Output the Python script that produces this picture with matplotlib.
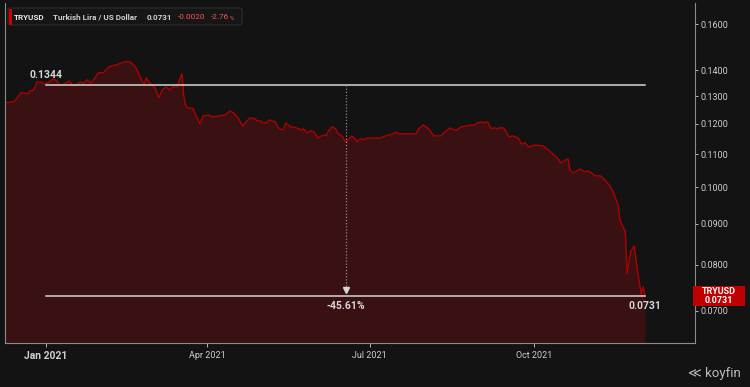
import matplotlib.pyplot as plt
import matplotlib.dates as mdates
from matplotlib.patches import FancyBboxPatch, Rectangle
import pandas as pd

plt.rcParams['font.family'] = ['Roboto', 'DejaVu Sans']

# TRYUSD (Dec 2020 - Dec 2021)
dates = [
    '2020-12-09', '2020-12-14', '2020-12-18', '2020-12-22', '2020-12-23', '2020-12-25',
    '2020-12-27', '2020-12-29', '2020-12-31', '2021-01-02', '2021-01-05', '2021-01-07',
    '2021-01-09', '2021-01-12', '2021-01-14', '2021-01-16', '2021-01-18', '2021-01-20',
    '2021-01-22', '2021-01-24', '2021-01-26', '2021-01-28', '2021-01-30', '2021-02-02',
    '2021-02-05', '2021-02-07', '2021-02-09', '2021-02-12', '2021-02-14', '2021-02-17',
    '2021-02-20', '2021-02-21', '2021-02-24', '2021-02-25', '2021-02-26', '2021-02-28',
    '2021-03-03', '2021-03-05', '2021-03-07', '2021-03-09', '2021-03-11', '2021-03-13',
    '2021-03-15', '2021-03-18', '2021-03-19', '2021-03-20', '2021-03-21', '2021-03-24',
    '2021-03-28', '2021-03-30', '2021-04-02', '2021-04-04', '2021-04-08', '2021-04-11',
    '2021-04-14', '2021-04-16', '2021-04-18', '2021-04-21', '2021-04-23', '2021-04-25',
    '2021-04-28', '2021-04-29', '2021-05-01', '2021-05-02', '2021-05-04', '2021-05-06',
    '2021-05-09', '2021-05-11', '2021-05-13', '2021-05-14', '2021-05-15', '2021-05-18',
    '2021-05-19', '2021-05-21', '2021-05-24', '2021-05-25', '2021-05-27', '2021-05-29',
    '2021-05-31', '2021-06-02', '2021-06-04', '2021-06-07', '2021-06-08', '2021-06-10',
    '2021-06-12', '2021-06-13', '2021-06-16', '2021-06-17', '2021-06-18', '2021-06-20',
    '2021-06-21', '2021-06-23', '2021-06-24', '2021-06-26', '2021-06-27', '2021-06-30',
    '2021-07-02', '2021-07-07', '2021-07-10', '2021-07-14', '2021-07-16', '2021-07-17',
    '2021-07-19', '2021-07-27', '2021-07-28', '2021-07-29', '2021-07-31', '2021-08-03',
    '2021-08-06', '2021-08-08', '2021-08-10', '2021-08-12', '2021-08-15', '2021-08-17',
    '2021-08-19', '2021-08-21', '2021-08-24', '2021-08-25', '2021-08-27', '2021-08-29',
    '2021-08-30', '2021-09-02', '2021-09-03', '2021-09-05', '2021-09-07', '2021-09-09',
    '2021-09-10', '2021-09-12', '2021-09-14', '2021-09-17', '2021-09-19', '2021-09-22',
    '2021-09-24', '2021-09-26', '2021-09-28', '2021-10-01', '2021-10-06', '2021-10-09',
    '2021-10-11', '2021-10-14', '2021-10-16', '2021-10-19', '2021-10-20', '2021-10-21',
    '2021-10-23', '2021-10-24', '2021-10-27', '2021-10-29', '2021-10-31', '2021-11-02',
    '2021-11-04', '2021-11-07', '2021-11-09', '2021-11-12', '2021-11-14', '2021-11-17',
    '2021-11-18', '2021-11-21', '2021-11-22', '2021-11-24', '2021-11-26', '2021-11-28',
    '2021-11-30', '2021-12-01', '2021-12-02',
]
prices = [
    0.1275, 0.1279, 0.1312, 0.1309, 0.1320, 0.1323,
    0.1354, 0.1354, 0.1347, 0.1350, 0.1366, 0.1358,
    0.1339, 0.1350, 0.1358, 0.1339, 0.1343, 0.1354,
    0.1350, 0.1362, 0.1350, 0.1366, 0.1390, 0.1390,
    0.1414, 0.1418, 0.1422, 0.1430, 0.1435, 0.1435,
    0.1414, 0.1398, 0.1354, 0.1347, 0.1370, 0.1350,
    0.1331, 0.1293, 0.1323, 0.1335, 0.1323, 0.1335,
    0.1335, 0.1386, 0.1300, 0.1267, 0.1256, 0.1256,
    0.1200, 0.1228, 0.1231, 0.1224, 0.1228, 0.1231,
    0.1245, 0.1238, 0.1224, 0.1193, 0.1207, 0.1221,
    0.1217, 0.1210, 0.1210, 0.1203, 0.1203, 0.1214,
    0.1207, 0.1186, 0.1179, 0.1183, 0.1203, 0.1189,
    0.1189, 0.1186, 0.1179, 0.1183, 0.1169, 0.1176,
    0.1172, 0.1152, 0.1159, 0.1162, 0.1176, 0.1189,
    0.1183, 0.1169, 0.1156, 0.1142, 0.1139, 0.1152,
    0.1159, 0.1149, 0.1139, 0.1149, 0.1146, 0.1152,
    0.1152, 0.1152, 0.1159, 0.1166, 0.1172, 0.1166,
    0.1166, 0.1166, 0.1179, 0.1186, 0.1196, 0.1183,
    0.1159, 0.1159, 0.1159, 0.1172, 0.1186, 0.1179,
    0.1179, 0.1189, 0.1193, 0.1193, 0.1196, 0.1196,
    0.1203, 0.1207, 0.1203, 0.1207, 0.1183, 0.1186,
    0.1183, 0.1186, 0.1186, 0.1156, 0.1159, 0.1152,
    0.1132, 0.1136, 0.1122, 0.1129, 0.1126, 0.1113,
    0.1103, 0.1088, 0.1072, 0.1082, 0.1085, 0.1051,
    0.1042, 0.1045, 0.1054, 0.1045, 0.1048, 0.1042,
    0.1033, 0.1033, 0.1024, 0.1006, 0.0989, 0.0950,
    0.0910, 0.0879, 0.0779, 0.0830, 0.0844, 0.0781,
    0.0733, 0.0750, 0.0731,
]
yticks = [0.07, 0.08, 0.09, 0.10, 0.11, 0.12, 0.13, 0.14, 0.16]
xticks = ['2021-01-01', '2021-04-01', '2021-07-01', '2021-10-01']
xtick_labels = ['Jan 2021', 'Apr 2021', 'Jul 2021', 'Oct 2021']
start_date, start_val = '2021-01-01', 0.1344
last_val = 0.0731
change, change_pct = -0.0020, -2.76

bg = '#131313'
grey = '#d6d6d6'

dt = pd.to_datetime(dates)
fig = plt.figure(figsize=(7.5, 3.87), dpi=100, facecolor=bg)
ax = fig.add_axes([5 / 750, 44 / 387, 690 / 750, 340 / 387])
ax.set_facecolor(bg)

bottom = 0.0638
ax.set_yscale('log')
ax.fill_between(dt, prices, bottom, color='#3a1113', lw=0)
ax.plot(dt, prices, color='#b00000', lw=1.0)

ax.set_ylim(bottom, 0.1700)
ax.set_xlim(dt[0], pd.Timestamp('2021-12-30'))

# period change markers
t0 = pd.Timestamp(start_date)
t1 = dt[-1]
tm = t0 + (t1 - t0) / 2
ax.plot([t0, t1], [start_val, start_val], color=grey, lw=1.1)
ax.plot([t0, t1], [last_val, last_val], color=grey, lw=1.1)
ax.plot([tm, tm], [start_val, last_val * 1.012], color='#8a8a8a', lw=0.9, ls=(0, (1, 1.5)))
ax.plot([tm], [last_val * 1.016], marker='v', color=grey, ms=4.5)
ax.annotate(f'{start_val:.4f}', (t0, start_val), xytext=(0, 3.5), textcoords='offset points',
            ha='center', va='bottom', color=grey, fontsize=7.5, fontweight='bold')
ax.annotate(f'{last_val:.4f}', (t1, last_val), xytext=(0, -4), textcoords='offset points',
            ha='center', va='top', color=grey, fontsize=7.5, fontweight='bold')
pct = (last_val / start_val - 1) * 100
ax.annotate(f'{pct:.2f}%', (tm, last_val), xytext=(0, -4), textcoords='offset points',
            ha='center', va='top', color=grey, fontsize=7.5, fontweight='bold')

# axes styling
ax.spines['top'].set_visible(False)
for s in ['left', 'right', 'bottom']:
    ax.spines[s].set_color('#8c8c8c')
    ax.spines[s].set_linewidth(0.8)
ax.yaxis.tick_right()
ax.set_yticks(yticks)
ax.set_yticklabels([f'{v:.4f}' for v in yticks])
ax.yaxis.set_minor_locator(plt.NullLocator())
ax.tick_params(axis='y', colors='#cfcfcf', labelsize=6.5, length=2, width=0.6, pad=2)
ax.set_xticks(pd.to_datetime(xticks))
ax.set_xticklabels(xtick_labels)
ax.xaxis.set_minor_locator(plt.NullLocator())
ax.tick_params(axis='x', colors='#cfcfcf', labelsize=6.5, length=3, width=0.6, pad=3)
lbls = ax.get_xticklabels()
lbls[0].set_fontsize(7.5)
lbls[0].set_fontweight('bold')

# price tag on the right axis
fig.canvas.draw()
_, py = ax.transData.transform((mdates.date2num(t1), last_val))
ph = 20
fig.patches.append(Rectangle((693 / 750, (py - ph / 2) / 387), 52 / 750, ph / 387,
                             transform=fig.transFigure, fc='#c00000', ec='none'))
fig.text(719 / 750, py / 387, f'TRYUSD\n{last_val:.4f}', ha='center', va='center',
         color='white', fontsize=6.5, fontweight='bold', linespacing=1.05)

# header box
fig.patches.append(FancyBboxPatch((8 / 750, 1 - 25 / 387), 234 / 750, 17 / 387,
                                  boxstyle='round,pad=0,rounding_size=0.004',
                                  transform=fig.transFigure, fc='#161616', ec='#2c2c2c', lw=0.8))
fig.patches.append(Rectangle((9 / 750, 1 - 24.5 / 387), 2.5 / 750, 15.5 / 387,
                             transform=fig.transFigure, fc='#d00000', ec='none'))
hy = 1 - 17 / 387
fs = 5.9
fig.text(14 / 750, hy, 'TRYUSD', color='#e6e6e6', fontsize=fs, fontweight='bold', va='center')
fig.text(53 / 750, hy, 'Turkish Lira / US Dollar', color='#cfcfcf', fontsize=fs, fontweight='bold', va='center')
fig.text(147 / 750, hy, f'{last_val:.4f}', color='#cfcfcf', fontsize=fs, fontweight='bold', va='center')
fig.text(178 / 750, hy, f'{change:.4f}', color='#ff5555', fontsize=fs, va='center')
fig.text(211 / 750, hy, f'{change_pct:.2f}', color='#ff5555', fontsize=fs, va='center')
fig.text(229.5 / 750, hy - 0.003, '%', color='#ff5555', fontsize=4.2, va='center')

# watermark
fig.text(741 / 750, 1 - 373 / 387, '≪ koyfin', color='#bdbdbd', fontsize=9.5, ha='right', va='center')

fig.savefig('out.png', dpi=100, facecolor=bg)
